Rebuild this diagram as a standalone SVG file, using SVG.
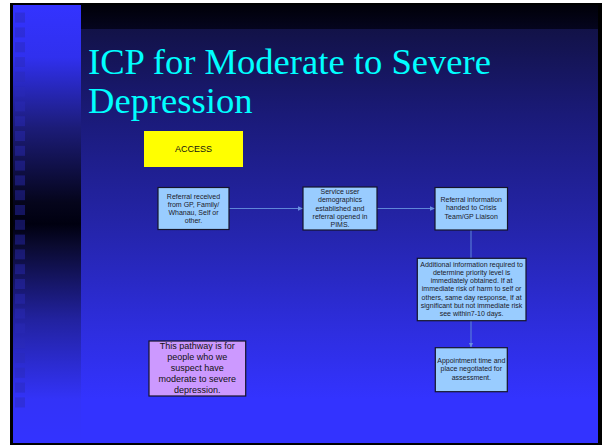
<svg xmlns="http://www.w3.org/2000/svg" width="602" height="445" viewBox="0 0 602 445">
<defs>
<linearGradient id="mainbg" x1="0" y1="0" x2="0" y2="1">
<stop offset="0" stop-color="#10103a"/>
<stop offset="0.25" stop-color="#1a1a78"/>
<stop offset="0.5" stop-color="#2424a8"/>
<stop offset="0.75" stop-color="#2e2ee0"/>
<stop offset="0.9" stop-color="#3333ff"/>
<stop offset="1" stop-color="#3333ff"/>
</linearGradient>
<linearGradient id="topband" x1="0" y1="0" x2="0" y2="1">
<stop offset="0" stop-color="#000008"/>
<stop offset="1" stop-color="#05051e"/>
</linearGradient>
<linearGradient id="stripe" gradientUnits="userSpaceOnUse" x1="0" y1="5" x2="0" y2="443">
<stop offset="0" stop-color="#3333ff"/>
<stop offset="0.12" stop-color="#3030ee"/>
<stop offset="0.28" stop-color="#1c1c78"/>
<stop offset="0.45" stop-color="#05051c"/>
<stop offset="0.5" stop-color="#000010"/>
<stop offset="0.55" stop-color="#0a0a30"/>
<stop offset="0.72" stop-color="#2222a0"/>
<stop offset="0.9" stop-color="#3333f8"/>
<stop offset="1" stop-color="#3333ff"/>
</linearGradient>
<marker id="arr" markerWidth="6" markerHeight="6" refX="5" refY="3" orient="auto" markerUnits="userSpaceOnUse">
<path d="M0,0.8 L5,3 L0,5.2 z" fill="#6a8fe0"/>
</marker>
</defs>
<style>
.box{fill:#99ccff;stroke:#15152a;stroke-width:1.2}
.t{font-family:"Liberation Sans",Arial,sans-serif;font-size:7px;fill:#1a1a2a;text-anchor:middle}
.tp{font-family:"Liberation Sans",Arial,sans-serif;font-size:9px;fill:#111;text-anchor:middle}
.title{font-family:"Liberation Serif","Times New Roman",serif;font-size:36.6px;fill:#00ffff}
.conn{stroke:#5f86d8;stroke-width:1;fill:none}
.sq{fill:#2a2ab8;opacity:0.45}
</style>
<rect x="0" y="0" width="602" height="445" fill="#ffffff"/>
<rect x="10" y="3" width="592" height="442" fill="#000000"/>
<rect x="81" y="5" width="517" height="438" fill="url(#mainbg)"/>
<rect x="81" y="5" width="517" height="24" fill="url(#topband)"/>
<rect x="13" y="5" width="68" height="438" fill="url(#stripe)"/>
<g id="squares">
<rect class="sq" x="15" y="12.6" width="10" height="10"/>
<rect class="sq" x="15" y="27.4" width="10" height="10"/>
<rect class="sq" x="15" y="42.2" width="10" height="10"/>
<rect class="sq" x="15" y="57" width="10" height="10"/>
<rect class="sq" x="15" y="71.8" width="10" height="10"/>
<rect class="sq" x="15" y="86.6" width="10" height="10"/>
<rect class="sq" x="15" y="101.4" width="10" height="10"/>
<rect class="sq" x="15" y="116.2" width="10" height="10"/>
<rect class="sq" x="15" y="131" width="10" height="10"/>
<rect class="sq" x="15" y="145.8" width="10" height="10"/>
<rect class="sq" x="15" y="160.6" width="10" height="10"/>
<rect class="sq" x="15" y="175.4" width="10" height="10"/>
<rect class="sq" x="15" y="190.2" width="10" height="10"/>
<rect class="sq" x="15" y="205" width="10" height="10"/>
<rect class="sq" x="15" y="219.8" width="10" height="10"/>
<rect class="sq" x="15" y="234.6" width="10" height="10"/>
<rect class="sq" x="15" y="249.4" width="10" height="10"/>
<rect class="sq" x="15" y="264.2" width="10" height="10"/>
<rect class="sq" x="15" y="279" width="10" height="10"/>
<rect class="sq" x="15" y="293.8" width="10" height="10"/>
<rect class="sq" x="15" y="308.6" width="10" height="10"/>
<rect class="sq" x="15" y="323.4" width="10" height="10"/>
<rect class="sq" x="15" y="338.2" width="10" height="10"/>
<rect class="sq" x="15" y="353" width="10" height="10"/>
<rect class="sq" x="15" y="367.8" width="10" height="10"/>
<rect class="sq" x="15" y="382.6" width="10" height="10"/>
<rect class="sq" x="15" y="397.4" width="10" height="10"/>
</g>
<text class="title" x="88" y="74">ICP for Moderate to Severe</text>
<text class="title" x="88" y="113">Depression</text>
<g id="connectors">
<line class="conn" x1="229" y1="208.5" x2="303" y2="208.5" marker-end="url(#arr)"/>
<line class="conn" x1="377" y1="208.5" x2="435" y2="208.5" marker-end="url(#arr)"/>
<line class="conn" x1="471" y1="230" x2="471" y2="258"/>
<line class="conn" x1="471" y1="320.5" x2="471" y2="347.5" marker-end="url(#arr)"/>
</g>
<g id="access">
<rect x="144" y="131" width="99" height="36" fill="#ffff00"/>
<text class="tp" x="193.5" y="151.8" fill="#111">ACCESS</text>
</g>
<g id="referral">
<rect class="box" x="158" y="187.5" width="71" height="42"/>
<text class="t" x="193.5" y="198.5">Referral received</text>
<text class="t" x="193.5" y="206.8">from GP, Family/</text>
<text class="t" x="193.5" y="215.1">Whanau, Self or</text>
<text class="t" x="193.5" y="223.4">other.</text>
</g>
<g id="demographics">
<rect class="box" x="303" y="187" width="74" height="43"/>
<text class="t" x="340" y="194.2">Service user</text>
<text class="t" x="340" y="202.3">demographics</text>
<text class="t" x="340" y="210.5">established and</text>
<text class="t" x="340" y="218.6">referral opened in</text>
<text class="t" x="340" y="226.8">PIMS.</text>
</g>
<g id="crisis">
<rect class="box" x="435" y="187.5" width="72.5" height="42.5"/>
<text class="t" x="471.2" y="201.8">Referral information</text>
<text class="t" x="471.2" y="210.2">handed to Crisis</text>
<text class="t" x="471.2" y="218.5">Team/GP Liaison</text>
</g>
<g id="priority">
<rect class="box" x="417.3" y="258.3" width="108.7" height="62.4"/>
<text class="t" x="471.6" y="266.8">Additional information required to</text>
<text class="t" x="471.6" y="275">determine priority level is</text>
<text class="t" x="471.6" y="283.2">immediately obtained. If at</text>
<text class="t" x="471.6" y="291.3">immediate risk of harm to self or</text>
<text class="t" x="471.6" y="299.5">others, same day response, If at</text>
<text class="t" x="471.6" y="307.7">significant but not immediate risk</text>
<text class="t" x="471.6" y="315.8">see within7-10 days.</text>
</g>
<g id="appointment">
<rect class="box" x="435.3" y="347.7" width="72" height="44"/>
<text class="t" x="471.3" y="362.5">Appointment time and</text>
<text class="t" x="471.3" y="371">place negotiated for</text>
<text class="t" x="471.3" y="379.5">assessment.</text>
</g>
<g id="pathway">
<rect x="149" y="341" width="96.7" height="55" fill="#cc99ff" stroke="#15152a" stroke-width="1.2"/>
<text class="tp" x="197.3" y="349.4">This pathway is for</text>
<text class="tp" x="197.3" y="360.4">people who we</text>
<text class="tp" x="197.3" y="371.4">suspect have</text>
<text class="tp" x="197.3" y="382.4">moderate to severe</text>
<text class="tp" x="197.3" y="393.2">depression.</text>
</g>
</svg>
